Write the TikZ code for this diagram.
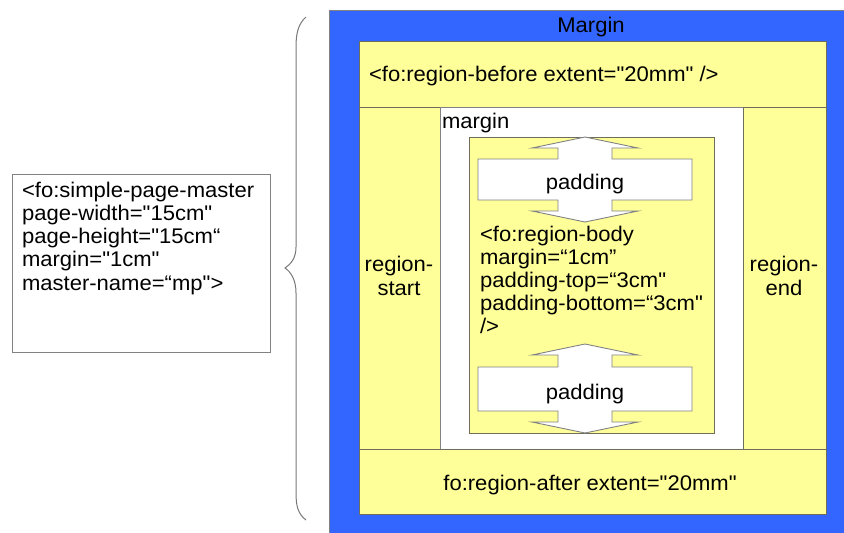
\documentclass[tikz,border=0pt]{standalone}
\usepackage{fontspec}
\setmainfont{Liberation Sans}[Ligatures=TeXOff, FakeStretch=1.04]
\definecolor{pageblue}{RGB}{51,102,255}
\definecolor{paleyellow}{RGB}{255,255,153}
\definecolor{edgeline}{RGB}{110,110,90}
\definecolor{calloutline}{RGB}{130,130,130}
\definecolor{bracegray}{RGB}{120,120,120}
\begin{document}
\begin{tikzpicture}[x=1pt,y=-1pt,
  every node/.style={inner sep=0pt, outer sep=0pt, font=\fontsize{21.2}{23.3}\selectfont},
  region/.style={draw=edgeline, line width=0.9pt, fill=paleyellow},
  callout/.style={draw=calloutline, line width=0.9pt, fill=white},
  lbl/.style={anchor=base}]
\useasboundingbox (0,0) rectangle (844,533);
\clip (0,0) rectangle (844,533);
\fill[white] (0,0) rectangle (844,533);
% page with blue margin
\draw[draw=calloutline, line width=0.9pt, fill=pageblue] (329,10) rectangle (860,545);
% regions
\draw[region] (359,41) rectangle (826,107);
\draw[region] (359,107) rectangle (440,449);
\draw[draw=calloutline, line width=0.9pt, fill=white] (440,107) rectangle (743,449);
\draw[region] (743,107) rectangle (826,449);
\draw[region] (359,449) rectangle (826,514);
\draw[region] (469,137) rectangle (714,433);
% padding callouts
\draw[callout] (585,137) -- (638,148) -- (612,148) -- (612,159) -- (692,159) -- (692,200)
  -- (612,200) -- (612,211) -- (638,211) -- (585,222) -- (532,211) -- (558,211) -- (558,200)
  -- (478,200) -- (478,159) -- (558,159) -- (558,148) -- (532,148) -- cycle;
\draw[callout] (585,344) -- (638,355) -- (612,355) -- (612,367) -- (692,367) -- (692,411)
  -- (612,411) -- (612,422) -- (638,422) -- (585,433) -- (532,422) -- (558,422) -- (558,411)
  -- (478,411) -- (478,367) -- (558,367) -- (558,355) -- (532,355) -- cycle;
% master box
\draw[draw=calloutline, line width=0.9pt, fill=white] (12,174) rectangle (270,352);
% brace
\draw[bracegray, line width=1pt] (306,17) .. controls (298,24) and (296,34) .. (296,47)
  -- (296,247) .. controls (296,258) and (291,264) .. (285,268)
  .. controls (291,272) and (296,280) .. (296,293)
  -- (296,493) .. controls (296,506) and (298,514) .. (306,520);
% texts
\node[lbl] (margintitle) at (591,32) {Margin};
\node[anchor=base west] (before) at (369,81) {<fo:region-before extent="20mm" />};
\node[anchor=base west] (innermargin) at (442,128) {margin};
\node[lbl] (pad1) at (585,189) {padding};
\node[lbl] (pad2) at (585,399) {padding};
\node[anchor=north, align=center] (rstart) at (399,256.5) {region-\\start};
\node[anchor=north, align=center] (rend) at (784,256.5) {region-\\end};
\node[lbl] (after) at (590,490) {fo:region-after extent="20mm"};
\node[anchor=north west, align=left, font=\fontsize{21.2}{23}\selectfont] (body) at (480,225.7)
  {<fo:region-body\\margin=“1cm”\\padding-top=“3cm"\\padding-bottom=“3cm"\\/>};
\node[anchor=north west, align=left] (master) at (22,181.7)
  {<fo:simple-page-master\\page-width="15cm"\\page-height="15cm“\\margin="1cm"\\master-name=“mp">};
\end{tikzpicture}
\end{document}
